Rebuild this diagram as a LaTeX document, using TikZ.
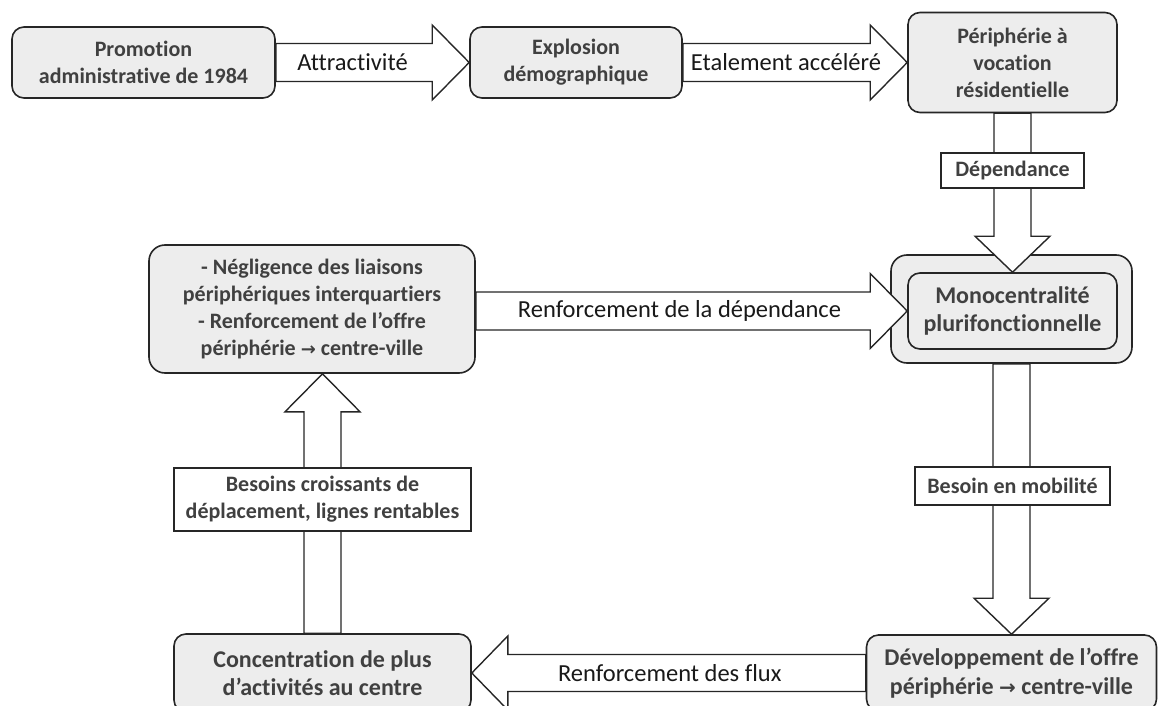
\documentclass[tikz,border=0pt]{standalone}
\usepackage{fontspec}
\setmainfont{Carlito}[Ligatures=NoCommon]
\newfontfamily\arrowfont{DejaVu Sans}
\usetikzlibrary{calc}
\definecolor{boxgray}{HTML}{EDEDED}
\definecolor{txtgray}{HTML}{404040}

\begin{document}
\begin{tikzpicture}[x=1pt, y=-1pt,
    box/.style={draw=black!85, line width=1.6pt, rounded corners=12pt, fill=boxgray, text=txtgray, align=center, inner sep=0pt, font=\fontsize{22}{27}\selectfont\bfseries},
    bigbox/.style={box, font=\fontsize{24}{28.5}\selectfont\bfseries},
    tag/.style={draw=black!85, line width=1.4pt, fill=white, text=txtgray, align=center, inner sep=0pt, font=\fontsize{22}{27}\selectfont\bfseries},
    fat/.style={draw=black!85, line width=1.4pt, fill=white, line join=miter},
    txt/.style={font=\fontsize{24.5}{29}\selectfont, text=black!90}]
    \useasboundingbox (0,0) rectangle (1158,706);

    % boxes
    \node[box, minimum width=263pt, minimum height=71pt] (promo) at (143.5,62.5) {Promotion\\administrative de 1984};
    \node[box, minimum width=212pt, minimum height=71pt] (explo) at (576,62.5) {Explosion\\démographique};
    \node[box, minimum width=209pt, minimum height=100pt] (peri) at (1012.5,62.5) {Périphérie à\\vocation\\résidentielle};
    \node[box, minimum width=241pt, minimum height=108pt, rounded corners=16pt] (monoout) at (1011.5,309) {};
    \node[bigbox, minimum width=209pt, minimum height=76pt] (monoin) at (1012.5,311) {Monocentralité\\plurifonctionnelle};
    \node[box, minimum width=326pt, minimum height=128pt, rounded corners=16pt] (negl) at (312,309) {- Négligence des liaisons\\périphériques interquartiers\\- Renforcement de l’offre\\périphérie {\arrowfont\fontsize{18}{27}\selectfont →} centre-ville};
    \node[bigbox, minimum width=297pt, minimum height=78pt] (conc) at (322.5,673) {Concentration de plus\\d’activités au centre};
    \node[bigbox, minimum width=290pt, minimum height=76pt] (dev) at (1011.5,673) {Développement de l’offre\\périphérie {\arrowfont\fontsize{20}{28.5}\selectfont →} centre-ville};

    % fat arrows to the right
    \foreach \a/\b/\s/\t in {promo/explo/-20/Attractivité, explo/peri/-9/Etalement accéléré, negl/monoin/-12/Renforcement de la dépendance} {
        \draw[fat] ($(\a.east |- \b.west)+(0,-19)$) -- ($(\b.west)+(-37,-19)$) -- ($(\b.west)+(-37,-37.5)$) -- (\b.west)
            -- ($(\b.west)+(-37,37.5)$) -- ($(\b.west)+(-37,19)$) -- ($(\a.east |- \b.west)+(0,19)$) -- cycle;
        \node[txt] at ($(\a.east |- \b.west)!0.5!(\b.west)+(\s,0)$) {\t};
    }
    % fat arrow to the left
    \draw[fat] ($(dev.west)+(0,-18.5)$) -- ($(conc.east)+(36,-18.5)$) -- ($(conc.east)+(36,-37)$) -- (conc.east)
        -- ($(conc.east)+(36,37)$) -- ($(conc.east)+(36,18.5)$) -- ($(dev.west)+(0,18.5)$) -- cycle;
    \node[txt] at ($(dev.west)!0.5!(conc.east)+(1,0)$) {Renforcement des flux};

    % fat arrows downwards
    \foreach \a/\b in {peri/monoin, monoout/dev}
        \draw[fat] ($(\a.south)+(-18.5,0)$) -- ($(\a.south |- \b.north)+(-18.5,-36)$) -- ($(\a.south |- \b.north)+(-37.5,-36)$)
            -- (\a.south |- \b.north) -- ($(\a.south |- \b.north)+(37.5,-36)$) -- ($(\a.south |- \b.north)+(18.5,-36)$)
            -- ($(\a.south)+(18.5,0)$) -- cycle;
    % fat arrow upwards
    \draw[fat] ($(conc.north)+(-18.5,0)$) -- ($(conc.north |- negl.south)+(-18.5,38)$) -- ($(conc.north |- negl.south)+(-37.5,38)$)
        -- (conc.north |- negl.south) -- ($(conc.north |- negl.south)+(37.5,38)$) -- ($(conc.north |- negl.south)+(18.5,38)$)
        -- ($(conc.north)+(18.5,0)$) -- cycle;

    % labels on the arrows
    \node[tag, minimum width=143pt, minimum height=35pt] (dep) at (1012.5,170.5) {Dépendance};
    \node[tag, minimum width=195pt, minimum height=38pt] (mobil) at (1012.5,486) {Besoin en mobilité};
    \node[tag, minimum width=297pt, minimum height=63pt] (besoins) at (322.5,499.5) {Besoins croissants de\\déplacement, lignes rentables};
\end{tikzpicture}
\end{document}
